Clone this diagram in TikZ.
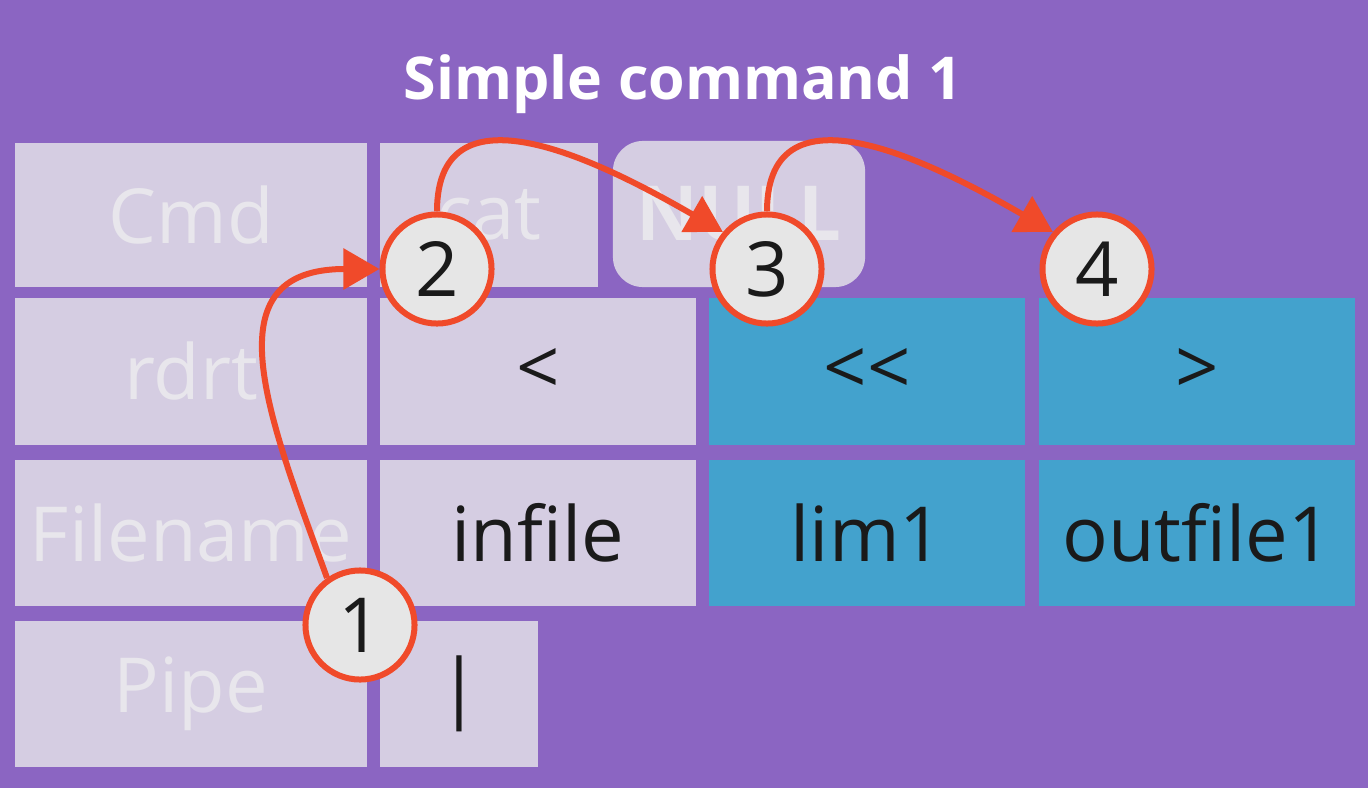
\documentclass[tikz,border=0pt]{standalone}
\usepackage{fontspec}
\setmainfont{Open Sans}
\usetikzlibrary{arrows.meta}
\definecolor{bgpurple}{RGB}{139,101,194}
\definecolor{boxlav}{RGB}{213,205,226}
\definecolor{labgray}{RGB}{232,230,236}
\definecolor{cellblue}{RGB}{67,162,205}
\definecolor{arrred}{RGB}{240,74,42}
\definecolor{badgegray}{RGB}{230,230,230}
\definecolor{ink}{RGB}{26,26,26}
\newcommand{\bigf}{\fontsize{21.6}{26}\selectfont}
\newcommand{\titlef}{\fontsize{16.8}{20}\selectfont\bfseries}

\begin{document}
\begin{tikzpicture}[x=0.01cm, y=-0.01cm,
   cell/.style={fill=boxlav, inner sep=0pt, outer sep=0pt, font=\bigf, text=ink},
   head/.style={cell, minimum width=3.52cm, text=labgray},
   bluecell/.style={cell, fill=cellblue},
   badge/.style={circle, draw=arrred, line width=0.06cm, fill=badgegray,
                 minimum size=1.09cm, inner sep=0pt, font=\bigf, text=ink},
   link/.style={arrred, line width=0.06cm, -{Triangle[length=0.36cm, width=0.40cm]}}]
   \fill[bgpurple] (0,0) rectangle (1368,788);
   \node[font=\titlef, text=white] (title) at (683,84) {Simple command 1};
   \node[head,     minimum height=1.44cm]                      (cmd)     at ( 191,215) {Cmd};
   \node[cell,     minimum height=1.44cm, minimum width=2.18cm,
         text=labgray]                                         (cat)     at ( 489,215) {cat};
   \node[cell,     minimum height=1.46cm, minimum width=2.52cm,
         rounded corners=0.3cm, text=labgray, font=\bigf\bfseries] (null) at ( 739,214) {NULL};
   \node[head,     minimum height=1.47cm]                      (rdrt)    at ( 191,371.5) {rdrt};
   \node[cell,     minimum height=1.47cm, minimum width=3.16cm] (lt)     at ( 538,371.5) {<};
   \node[bluecell, minimum height=1.47cm, minimum width=3.16cm] (ltlt)   at ( 867,371.5) {<{}<};
   \node[bluecell, minimum height=1.47cm, minimum width=3.16cm] (gt)     at (1197,371.5) {>};
   \node[head,     minimum height=1.46cm]                      (fname)   at ( 191,533) {Filename};
   \node[cell,     minimum height=1.46cm, minimum width=3.16cm] (infile) at ( 538,533) {infile};
   \node[bluecell, minimum height=1.46cm, minimum width=3.16cm] (lim)    at ( 867,533) {lim1};
   \node[bluecell, minimum height=1.46cm, minimum width=3.16cm] (outfile) at (1197,533) {outfile1};
   \node[head,     minimum height=1.46cm]                      (pipe)    at ( 191,694) {Pipe};
   \node[cell,     minimum height=1.46cm, minimum width=1.58cm] (bar)    at ( 459,694) {|};
   \node[badge] (n1) at ( 360,625) {1};
   \node[badge] (n2) at ( 437,269) {2};
   \node[badge] (n3) at ( 767,269) {3};
   \node[badge] (n4) at (1097,269) {4};
   \draw[link] (n1.125)   to[out=110, in=180, looseness=1.4] (n2.west);
   \draw[link] (n2.north) to[out=90,  in=150, looseness=1.2] (n3.140);
   \draw[link] (n3.north) to[out=90,  in=150, looseness=1.2] (n4.140);
\end{tikzpicture}
\end{document}
